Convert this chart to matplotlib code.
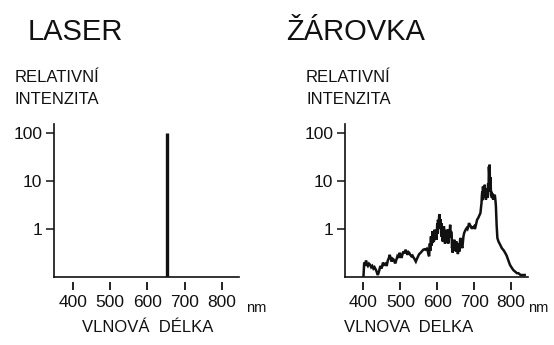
import numpy as np
import matplotlib
matplotlib.use("Agg")
import matplotlib.pyplot as plt

plt.rcParams['font.family'] = ['Liberation Sans', 'DejaVu Sans']

# laser: one narrow line
laser_nm = [652]
laser_val = [100]

# incandescent bulb spectrum (relative intensity, log scale)
bulb_nm = [400, 402, 404, 407, 410, 412, 415, 418, 421, 424, 427, 430, 434, 437, 439,
           442, 446, 449, 453, 456, 460, 463, 466, 469, 471, 474, 476, 479, 482, 485,
           487, 490, 492, 495, 498, 501, 503, 506, 508, 511, 514, 517, 519, 522, 524,
           527, 530, 533, 535, 538, 542, 545, 548, 551, 555, 558, 562, 566, 569, 572,
           574, 576, 578, 580, 581, 583, 584, 586, 587, 588, 590, 591, 593, 594, 595,
           597, 598, 600, 601, 602, 604, 605, 606, 608, 609, 611, 612, 613, 615, 616,
           617, 618, 620, 621, 622, 624, 625, 626, 628, 629, 630, 632, 633, 635, 636,
           637, 639, 640, 641, 642, 644, 645, 646, 648, 649, 651, 652, 653, 655, 656,
           657, 660, 662, 664, 666, 668, 671, 673, 675, 677, 680, 682, 684, 686, 689,
           691, 693, 695, 698, 700, 702, 704, 706, 708, 711, 713, 715, 717, 719, 720,
           721, 722, 723, 724, 725, 726, 727, 728, 729, 730, 731, 732, 733, 734, 735,
           736, 737, 738, 739, 740, 741, 742, 743, 744, 745, 746, 747, 748, 749, 750,
           752, 754, 756, 758, 759, 761, 763, 766, 770, 775, 780, 784, 788, 792, 797,
           801, 806, 811, 816, 820, 826, 832, 837]
bulb_val = [0.10, 0.20, 0.17, 0.22, 0.18, 0.17, 0.19, 0.18, 0.16, 0.17, 0.15, 0.16, 0.14, 0.12, 0.11,
            0.13, 0.17, 0.15, 0.20, 0.18, 0.19, 0.17, 0.22, 0.25, 0.29, 0.25, 0.21, 0.24, 0.23, 0.20,
            0.20, 0.24, 0.27, 0.25, 0.32, 0.28, 0.25, 0.30, 0.34, 0.31, 0.37, 0.33, 0.29, 0.33, 0.32,
            0.29, 0.27, 0.28, 0.26, 0.24, 0.21, 0.24, 0.27, 0.30, 0.32, 0.34, 0.37, 0.38, 0.37, 0.39,
            0.36, 0.30, 0.27, 0.50, 0.35, 0.70, 0.45, 0.55, 0.90, 0.51, 0.80, 0.55, 0.97, 0.60, 0.75,
            0.83, 0.60, 1.30, 0.80, 1.56, 1.00, 1.80, 2.05, 1.20, 1.60, 0.70, 1.33, 0.90, 0.55, 1.10,
            0.60, 1.14, 0.75, 0.50, 0.90, 0.51, 0.80, 0.97, 0.55, 0.70, 0.50, 1.00, 0.65, 1.23, 0.70,
            0.90, 0.83, 0.40, 0.45, 0.32, 0.55, 0.35, 0.60, 0.38, 0.55, 0.34, 0.55, 0.40, 0.51, 0.30,
            0.50, 0.34, 0.60, 0.65, 0.45, 0.40, 0.70, 0.83, 0.90, 0.97, 1.05, 1.00, 1.10, 1.33, 1.20,
            1.14, 1.05, 1.05, 1.10, 1.14, 1.00, 1.14, 1.35, 1.56, 1.70, 1.84, 2.00, 2.15, 3.00, 3.50,
            5.00, 6.00, 4.00, 7.70, 5.00, 4.80, 6.50, 7.00, 8.40, 4.50, 5.50, 4.10, 6.00, 4.50, 7.00,
            5.60, 4.50, 9.00, 6.00, 20.0, 14.0, 22.0, 8.00, 12.0, 7.70, 5.00, 6.00, 4.50, 5.60, 4.50,
            4.10, 4.80, 5.20, 3.80, 3.00, 1.20, 0.65, 0.55, 0.48, 0.40, 0.36, 0.32, 0.28, 0.23, 0.18,
            0.16, 0.14, 0.13, 0.12, 0.12, 0.11, 0.11, 0.11]

yticks = [1, 10, 100]
ytick_labels = ['1', '10', '100']
xticks = [400, 500, 600, 700, 800]
xtick_labels = ['400', '500', '600', '700', '800']

W, H = 554, 345
fig = plt.figure(figsize=(W / 100, H / 100), dpi=100)

ink = '#111111'
lbl_size = 12.5


def panel(rect, nm_x):
    ax = fig.add_axes(rect)
    ax.set_yscale('log')
    ax.set_xlim(350, 846)
    ax.set_ylim(0.1, 155)
    for s in ['top', 'right']:
        ax.spines[s].set_visible(False)
    for s in ['left', 'bottom']:
        ax.spines[s].set_linewidth(1.2)
        ax.spines[s].set_color(ink)
    ax.set_yticks(yticks)
    ax.set_yticklabels(ytick_labels)
    ax.yaxis.set_minor_locator(matplotlib.ticker.NullLocator())
    ax.set_xticks(xticks)
    ax.set_xticklabels(xtick_labels)
    ax.tick_params(axis='y', direction='out', length=5.8, width=1.1, pad=2.5,
                   labelsize=lbl_size, colors=ink)
    ax.tick_params(axis='x', length=0, pad=13, labelsize=lbl_size, colors=ink)
    # short tick marks that float just under the baseline
    ax.plot(xticks, [-0.062] * len(xticks), transform=ax.get_xaxis_transform(),
            ls='none', marker='|', ms=5.5, mew=1.3, color=ink, clip_on=False)
    ax.text(nm_x, -0.155, 'nm', transform=ax.get_xaxis_transform(), ha='center',
            va='top', fontsize=10.5, color=ink)
    ax.patch.set_alpha(0)
    return ax


ax1 = panel([54 / W, 68 / H, 185 / W, 153 / H], 892)
ax1.vlines(laser_nm, 0.1, laser_val, color=ink, lw=2.4)

ax2 = panel([345 / W, 68 / H, 183 / W, 153 / H], 875)
ax2.plot(bulb_nm, bulb_val, color=ink, lw=1.8, solid_joinstyle='miter')


def ftext(x, y, s, **kw):
    fig.text(x / W, 1 - y / H, s, color=ink, **kw)


ftext(28, 32, 'LASER', fontsize=21, va='center', ha='left')
ftext(286, 32, 'ŽÁROVKA', fontsize=21, va='center', ha='left')
for x0 in (15, 306):
    ftext(x0, 77, 'RELATIVNÍ', fontsize=12, va='center', ha='left')
    ftext(x0, 100, 'INTENZITA', fontsize=12, va='center', ha='left')
ftext(148, 328, 'VLNOVÁ  DÉLKA', fontsize=12, va='center', ha='center')
ftext(409, 328, 'VLNOVA  DELKA', fontsize=12, va='center', ha='center')

fig.savefig('out.png', dpi=100)
